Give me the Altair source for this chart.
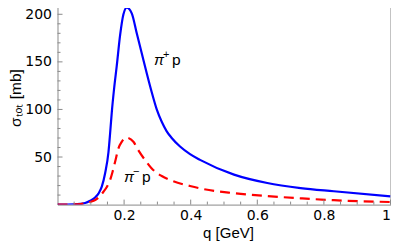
import altair as alt
import pandas as pd

# pi+ p total cross-section (blue, solid)
q_plus = [0, 0.03, 0.05, 0.068, 0.083, 0.098, 0.113, 0.123, 0.133, 0.143, 0.153, 0.158,
          0.163, 0.17, 0.178, 0.188, 0.198, 0.208, 0.223, 0.238, 0.253, 0.268, 0.283,
          0.298, 0.313, 0.328, 0.343, 0.368, 0.398, 0.428, 0.53, 0.63, 0.73, 0.83, 1.0]
s_plus = [0, 0.05, 0.2, 0.7, 1.6, 4, 7.5, 11.5, 18.8, 33, 55, 75,
          97, 122, 146, 178, 200, 207, 201, 180, 159, 138, 118,
          100, 87, 77, 70, 61, 53, 47, 31.5, 22.7, 17.4, 14, 8.7]

# pi- p total cross-section (red, dashed)
q_minus = [0, 0.05, 0.068, 0.083, 0.1, 0.113, 0.125, 0.138, 0.148, 0.158, 0.165, 0.173,
           0.183, 0.193, 0.208, 0.228, 0.243, 0.263, 0.283, 0.313, 0.348, 0.398, 0.428,
           0.53, 0.63, 0.73, 0.83, 1.0]
s_minus = [0, 0.15, 0.5, 1.5, 3, 4.8, 8, 13.5, 18.5, 25.8, 34, 45,
           59, 66, 70.3, 66, 57, 46.8, 38, 30, 24.5, 19.5, 17,
           12, 8.9, 6.6, 4.6, 2.7]

x_major = [0.2, 0.4, 0.6, 0.8, 1.0]
x_minor = [0.05, 0.1, 0.15, 0.25, 0.3, 0.35, 0.45, 0.5, 0.55, 0.65, 0.7, 0.75, 0.85, 0.9, 0.95]
y_major = [50, 100, 150, 200]
y_minor = [10, 20, 30, 40, 60, 70, 80, 90, 110, 120, 130, 140, 160, 170, 180, 190, 210, 220]

# curve labels: Greek letter, superscript charge, proton
lab_pi = ["π", "π"]
lab_charge = ["+", "−"]
lab_p = ["p", "p"]
label_q = [0.29, 0.2]
label_s = [146.6, 23.7]

W, H = 333, 214.1
GRAY = "#8a8a8a"
FONT = "Liberation Sans"
TICKFONT = "DejaVu Sans"

xs = alt.Scale(domain=[0, 1], nice=False, zero=False)
ys = alt.Scale(domain=[0, 225], nice=False, zero=False)

df_plus = pd.DataFrame({"q": q_plus, "s": s_plus})
df_minus = pd.DataFrame({"q": q_minus, "s": s_minus})

base_x = alt.X("q:Q", scale=xs, title="q [GeV]",
               axis=alt.Axis(values=x_major, ticks=False, domain=False, grid=False,
                             labelExpr="datum.value == 1 ? '1' : format(datum.value, '.1f')",
                             labelFontSize=14, labelPadding=4, titleFontSize=15,
                             titlePadding=3, titleX=W / 2 + 4, labelColor="black",
                             titleColor="black", titleFontWeight="normal",
                             labelFont=TICKFONT, titleFont=FONT))
base_y = alt.Y("s:Q", scale=ys, title="σₜₒₜ [mb]",
               axis=alt.Axis(values=y_major, ticks=False, domain=False, grid=False,
                             labelFontSize=14, labelPadding=6, titleFontSize=15.5,
                             titlePadding=1, labelColor="black", titleColor="black",
                             titleFontWeight="normal", labelFont=TICKFONT, titleFont=FONT))

line_plus = alt.Chart(df_plus).mark_line(color="#0000ff", strokeWidth=2.2,
                                         interpolate="monotone", clip=True).encode(x=base_x, y=base_y)
line_minus = alt.Chart(df_minus).mark_line(color="#ff0000", strokeWidth=2.2, strokeDash=[10, 6],
                                           interpolate="monotone", clip=True).encode(x="q:Q", y="s:Q")

def xticks(vals, length):
    d = pd.DataFrame({"q": vals})
    return alt.Chart(d).mark_rule(color=GRAY, strokeWidth=1).encode(
        x="q:Q", y=alt.value(H), y2=alt.value(H - length))

def yticks(vals, length):
    d = pd.DataFrame({"s": vals})
    return alt.Chart(d).mark_rule(color=GRAY, strokeWidth=1).encode(
        y="s:Q", x=alt.value(0), x2=alt.value(length))

lab_df = pd.DataFrame({"pi": lab_pi, "c": lab_charge, "p": lab_p, "q": label_q, "s": label_s})
t_pi = alt.Chart(lab_df).mark_text(align="left", baseline="alphabetic", fontSize=15,
                                   fontStyle="italic", font=FONT, color="black").encode(
    x="q:Q", y="s:Q", text="pi:N")
t_c = alt.Chart(lab_df).mark_text(align="left", baseline="alphabetic", fontSize=11,
                                  font=FONT, color="black", dx=9, dy=-7).encode(
    x="q:Q", y="s:Q", text="c:N")
t_p = alt.Chart(lab_df).mark_text(align="left", baseline="alphabetic", fontSize=15.5,
                                  font=FONT, color="black", dx=18).encode(
    x="q:Q", y="s:Q", text="p:N")

chart = alt.layer(
    line_plus, line_minus,
    xticks(x_major, 5), xticks(x_minor, 3),
    yticks(y_major, 5), yticks(y_minor, 3),
    t_pi, t_c, t_p,
).properties(
    width=W, height=H,
    autosize=alt.AutoSizeParams(type="none"),
    padding={"left": 49.5, "top": -17.5, "right": 0, "bottom": 37},
).configure_view(stroke=GRAY, strokeWidth=1)

chart.save("out.html", embed_options={"renderer": "svg", "actions": False})
